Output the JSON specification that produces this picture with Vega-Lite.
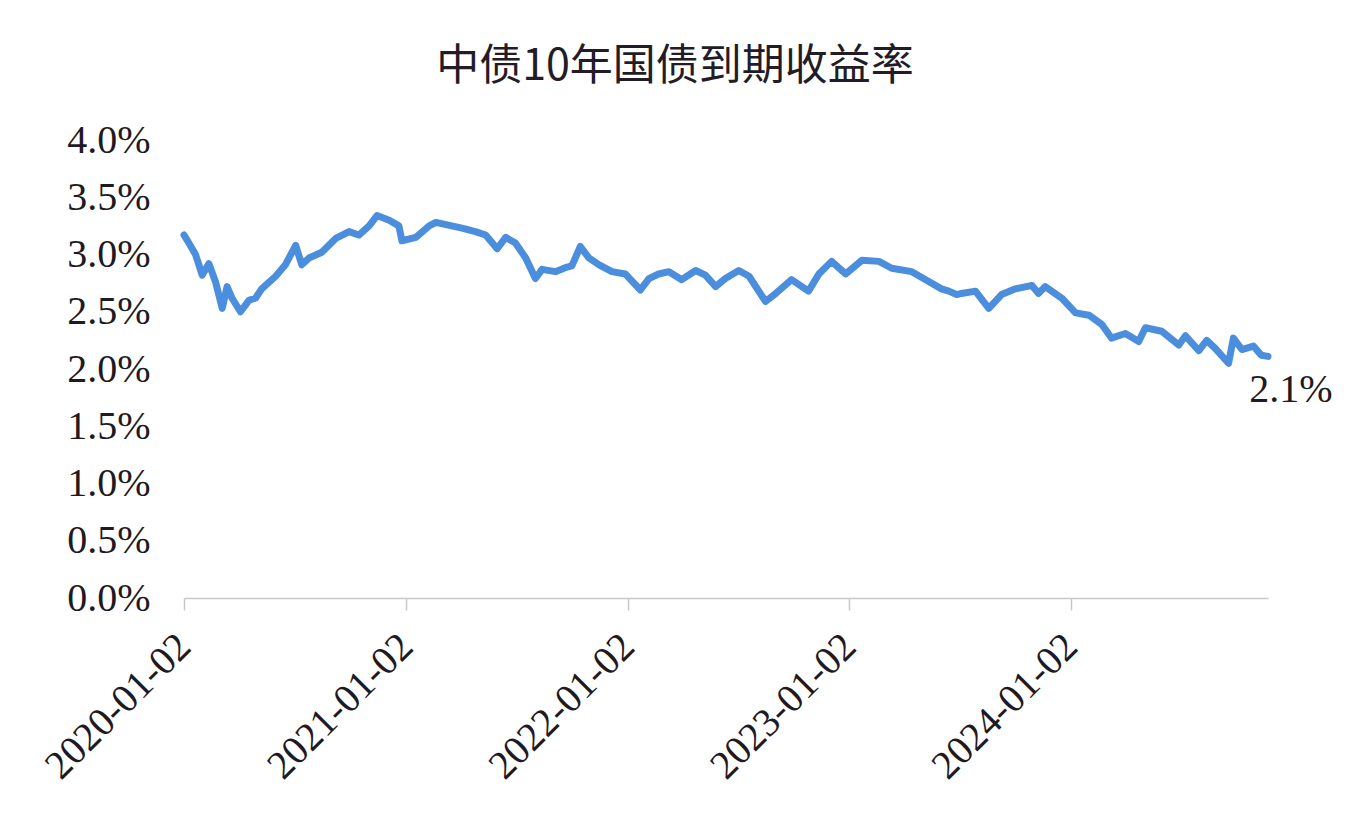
{
  "$schema": "https://vega.github.io/schema/vega-lite/v6.json",
  "autosize": {"type": "none"},
  "width": 1084,
  "height": 458,
  "padding": {"left": 184, "top": 140, "right": 78, "bottom": 224},
  "background": "#ffffff",
  "title": {
    "text": "中债10年国债到期收益率",
    "font": "Noto Sans CJK SC",
    "fontSize": 43,
    "fontWeight": "normal",
    "color": "#231c26",
    "anchor": "middle",
    "dx": -51,
    "baseline": "bottom",
    "offset": -12
  },
  "config": {"view": {"stroke": null}},
  "datasets": {
    "series": [
      {"date": "2020-01-02", "yield": 3.17},
      {"date": "2020-01-10", "yield": 3.10},
      {"date": "2020-01-21", "yield": 3.00},
      {"date": "2020-02-01", "yield": 2.82},
      {"date": "2020-02-12", "yield": 2.92},
      {"date": "2020-02-23", "yield": 2.76},
      {"date": "2020-03-05", "yield": 2.53},
      {"date": "2020-03-13", "yield": 2.72},
      {"date": "2020-03-21", "yield": 2.62},
      {"date": "2020-04-04", "yield": 2.50},
      {"date": "2020-04-18", "yield": 2.60},
      {"date": "2020-04-29", "yield": 2.62},
      {"date": "2020-05-09", "yield": 2.70},
      {"date": "2020-06-01", "yield": 2.81},
      {"date": "2020-06-17", "yield": 2.91},
      {"date": "2020-07-04", "yield": 3.08},
      {"date": "2020-07-14", "yield": 2.91},
      {"date": "2020-07-26", "yield": 2.97},
      {"date": "2020-08-16", "yield": 3.02},
      {"date": "2020-09-08", "yield": 3.14},
      {"date": "2020-09-30", "yield": 3.20},
      {"date": "2020-10-16", "yield": 3.17},
      {"date": "2020-11-02", "yield": 3.25},
      {"date": "2020-11-15", "yield": 3.34},
      {"date": "2020-12-05", "yield": 3.30},
      {"date": "2020-12-21", "yield": 3.25},
      {"date": "2020-12-26", "yield": 3.12},
      {"date": "2021-01-18", "yield": 3.15},
      {"date": "2021-02-09", "yield": 3.25},
      {"date": "2021-02-20", "yield": 3.28},
      {"date": "2021-03-18", "yield": 3.25},
      {"date": "2021-04-04", "yield": 3.23},
      {"date": "2021-04-26", "yield": 3.20},
      {"date": "2021-05-13", "yield": 3.17},
      {"date": "2021-06-01", "yield": 3.05},
      {"date": "2021-06-15", "yield": 3.15},
      {"date": "2021-07-01", "yield": 3.10},
      {"date": "2021-07-18", "yield": 2.97},
      {"date": "2021-08-03", "yield": 2.79},
      {"date": "2021-08-14", "yield": 2.87},
      {"date": "2021-09-05", "yield": 2.85},
      {"date": "2021-09-24", "yield": 2.89},
      {"date": "2021-10-02", "yield": 2.90},
      {"date": "2021-10-16", "yield": 3.07},
      {"date": "2021-10-30", "yield": 2.97},
      {"date": "2021-11-16", "yield": 2.91},
      {"date": "2021-12-07", "yield": 2.85},
      {"date": "2021-12-29", "yield": 2.83},
      {"date": "2022-01-23", "yield": 2.69},
      {"date": "2022-02-06", "yield": 2.79},
      {"date": "2022-02-22", "yield": 2.83},
      {"date": "2022-03-11", "yield": 2.85},
      {"date": "2022-04-01", "yield": 2.78},
      {"date": "2022-04-24", "yield": 2.86},
      {"date": "2022-05-10", "yield": 2.82},
      {"date": "2022-05-27", "yield": 2.72},
      {"date": "2022-06-12", "yield": 2.79},
      {"date": "2022-07-04", "yield": 2.86},
      {"date": "2022-07-21", "yield": 2.81},
      {"date": "2022-08-17", "yield": 2.59},
      {"date": "2022-09-03", "yield": 2.66},
      {"date": "2022-09-29", "yield": 2.78},
      {"date": "2022-10-27", "yield": 2.68},
      {"date": "2022-11-13", "yield": 2.83},
      {"date": "2022-12-04", "yield": 2.94},
      {"date": "2022-12-27", "yield": 2.83},
      {"date": "2023-01-23", "yield": 2.95},
      {"date": "2023-02-20", "yield": 2.94},
      {"date": "2023-03-13", "yield": 2.88},
      {"date": "2023-04-15", "yield": 2.85},
      {"date": "2023-05-08", "yield": 2.78},
      {"date": "2023-06-03", "yield": 2.70},
      {"date": "2023-06-15", "yield": 2.68},
      {"date": "2023-06-28", "yield": 2.65},
      {"date": "2023-07-06", "yield": 2.66},
      {"date": "2023-07-29", "yield": 2.68},
      {"date": "2023-08-20", "yield": 2.53},
      {"date": "2023-09-10", "yield": 2.65},
      {"date": "2023-10-03", "yield": 2.70},
      {"date": "2023-10-30", "yield": 2.73},
      {"date": "2023-11-10", "yield": 2.66},
      {"date": "2023-11-21", "yield": 2.72},
      {"date": "2023-12-18", "yield": 2.62},
      {"date": "2024-01-10", "yield": 2.49},
      {"date": "2024-02-01", "yield": 2.47},
      {"date": "2024-02-22", "yield": 2.39},
      {"date": "2024-03-09", "yield": 2.27},
      {"date": "2024-04-01", "yield": 2.31},
      {"date": "2024-04-23", "yield": 2.24},
      {"date": "2024-05-04", "yield": 2.36},
      {"date": "2024-05-31", "yield": 2.33},
      {"date": "2024-06-28", "yield": 2.21},
      {"date": "2024-07-09", "yield": 2.29},
      {"date": "2024-07-31", "yield": 2.16},
      {"date": "2024-08-13", "yield": 2.25},
      {"date": "2024-08-27", "yield": 2.18},
      {"date": "2024-09-18", "yield": 2.05},
      {"date": "2024-09-26", "yield": 2.27},
      {"date": "2024-10-10", "yield": 2.17},
      {"date": "2024-10-29", "yield": 2.20},
      {"date": "2024-11-11", "yield": 2.12},
      {"date": "2024-11-22", "yield": 2.11}
    ],
    "endLabel": [
      {"date": "2024-11-22", "yield": 2.11, "label": "2.1%"}
    ]
  },
  "layer": [
    {
      "data": {"name": "series"},
      "mark": {"type": "line", "color": "#4A8EDD", "strokeWidth": 7, "strokeJoin": "round", "strokeCap": "round", "clip": false},
      "encoding": {
        "x": {
          "field": "date",
          "type": "temporal",
          "scale": {
            "type": "utc",
            "nice": false,
            "domain": [
              {"year": 2020, "month": 1, "date": 2, "utc": true},
              {"year": 2024, "month": 11, "date": 22, "utc": true}
            ]
          },
          "axis": {
            "title": null,
            "grid": false,
            "values": [
              {"year": 2020, "month": 1, "date": 2, "utc": true},
              {"year": 2021, "month": 1, "date": 2, "utc": true},
              {"year": 2022, "month": 1, "date": 2, "utc": true},
              {"year": 2023, "month": 1, "date": 2, "utc": true},
              {"year": 2024, "month": 1, "date": 2, "utc": true}
            ],
            "labelExpr": "utcFormat(datum.value, '%Y-%m-%d')",
            "labelAngle": -45,
            "labelAlign": "right",
            "labelBaseline": "middle",
            "labelFont": "Liberation Serif",
            "labelFontSize": 40,
            "labelColor": "#1f1a22",
            "labelPadding": 30,
            "labelLimit": 0,
            "labelOverlap": false,
            "labelFlush": false,
            "domainColor": "#c8c8c8",
            "domainWidth": 1.5,
            "tickColor": "#c8c8c8",
            "tickWidth": 1.5,
            "tickSize": 12
          }
        },
        "y": {
          "field": "yield",
          "type": "quantitative",
          "scale": {"domain": [0, 4], "nice": false, "zero": true},
          "axis": {
            "title": null,
            "grid": false,
            "domain": false,
            "ticks": false,
            "values": [0, 0.5, 1, 1.5, 2, 2.5, 3, 3.5, 4],
            "labelExpr": "format(datum.value, '.1f') + '%'",
            "labelFont": "Liberation Serif",
            "labelFontSize": 40,
            "labelColor": "#1f1a22",
            "labelPadding": 34,
            "labelBaseline": "middle",
            "labelFlush": false,
            "labelOverlap": false
          }
        }
      }
    },
    {
      "data": {"name": "endLabel"},
      "mark": {"type": "text", "font": "Liberation Serif", "fontSize": 40, "color": "#1f1a22", "align": "center", "baseline": "middle", "dx": 23, "dy": 34, "clip": false},
      "encoding": {
        "x": {"field": "date", "type": "temporal"},
        "y": {"field": "yield", "type": "quantitative"},
        "text": {"field": "label"}
      }
    }
  ]
}
